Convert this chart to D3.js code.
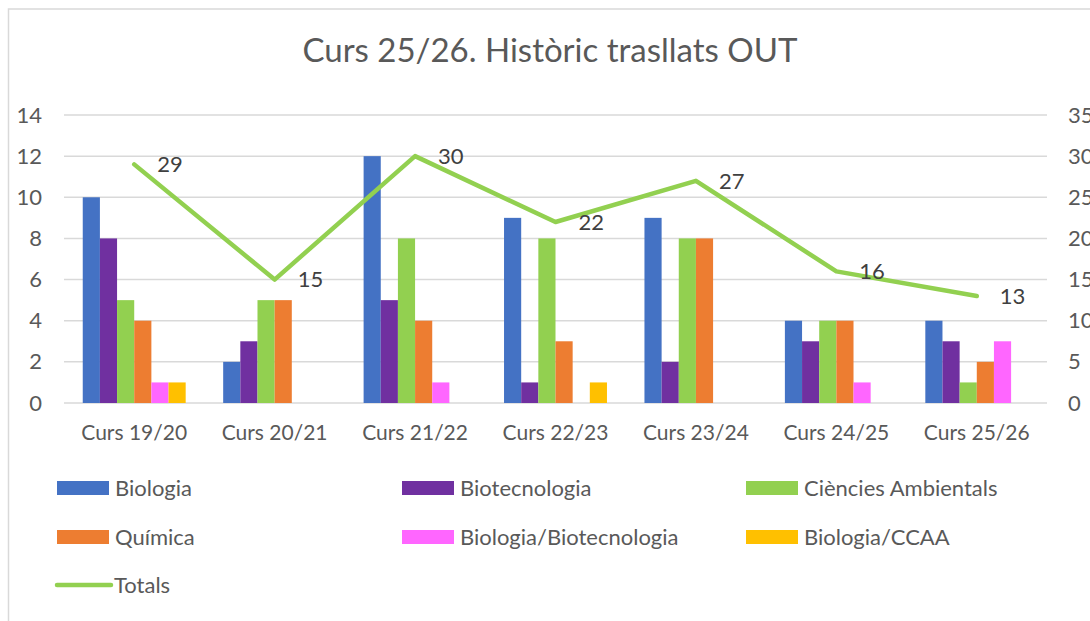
<!DOCTYPE html>
<html>
<head>
<meta charset="utf-8">
<script src="https://cdn.jsdelivr.net/npm/d3@7"></script>
<style>
  html, body { margin: 0; padding: 0; background: #fff; }
  svg { display: block; font-family: Lato, 'Open Sans', sans-serif; }
</style>
</head>
<body>
<svg width="1090" height="621"></svg>
<script>
// Data
const cursos = ['Curs 19/20', 'Curs 20/21', 'Curs 21/22', 'Curs 22/23', 'Curs 23/24', 'Curs 24/25', 'Curs 25/26'];
const biologia = [10, 2, 12, 9, 9, 4, 4];
const biotecnologia = [8, 3, 5, 1, 2, 3, 3];
const ambientals = [5, 5, 8, 8, 8, 4, 1];
const quimica = [4, 5, 4, 3, 8, 4, 2];
const bioBiotec = [1, 0, 1, 0, 0, 1, 3];
const bioCCAA = [1, 0, 0, 1, 0, 0, 0];
const totals = [29, 15, 30, 22, 27, 16, 13];
const leftTicks = [0, 2, 4, 6, 8, 10, 12, 14];
const rightTicks = [0, 5, 10, 15, 20, 25, 30, 35];

const series = [
  { name: 'Biologia', values: biologia, color: '#4472C4' },
  { name: 'Biotecnologia', values: biotecnologia, color: '#7030A0' },
  { name: 'Ciències Ambientals', values: ambientals, color: '#92D050' },
  { name: 'Química', values: quimica, color: '#ED7D31' },
  { name: 'Biologia/Biotecnologia', values: bioBiotec, color: '#FF66FF' },
  { name: 'Biologia/CCAA', values: bioCCAA, color: '#FFC000' }
];
const lineColor = '#92D050';
const textColor = '#595959';
const gridColor = '#D9D9D9';

const svg = d3.select('svg');
const plot = { left: 64, right: 1047, top: 115, bottom: 403 };

// chart area border
svg.append('rect')
  .attr('x', 8.5).attr('y', 9)
  .attr('width', 1200).attr('height', 700)
  .attr('fill', 'none')
  .attr('stroke', gridColor)
  .attr('stroke-width', 1.5);

const x0 = d3.scaleBand()
  .domain(cursos)
  .range([plot.left, plot.right])
  .paddingInner(0.267)
  .paddingOuter(0.1335);
const x1 = d3.scaleBand()
  .domain(series.map(s => s.name))
  .range([0, x0.bandwidth()]);
const y = d3.scaleLinear().domain([0, 14]).range([plot.bottom, plot.top]);
const y2 = d3.scaleLinear().domain([0, 35]).range([plot.bottom, plot.top]);

// Title
svg.append('text')
  .attr('x', 550)
  .attr('y', 62)
  .attr('text-anchor', 'middle')
  .attr('fill', textColor)
  .style('font-size', '33px')
  .text('Curs 25/26. Històric trasllats OUT');

// Gridlines
svg.append('g')
  .selectAll('line')
  .data(leftTicks)
  .enter()
  .append('line')
  .attr('x1', plot.left)
  .attr('x2', plot.right)
  .attr('y1', d => y(d))
  .attr('y2', d => y(d))
  .attr('stroke', gridColor)
  .attr('stroke-width', 1.5);

// Left axis
const yAxis = svg.append('g')
  .attr('transform', `translate(${plot.left - 20},0)`)
  .call(d3.axisLeft(y).tickValues(leftTicks).tickSize(0).tickPadding(2));
yAxis.select('.domain').remove();
yAxis.selectAll('text')
  .attr('fill', textColor)
  .style('font-size', '22px')
  .style('font-family', 'Lato, sans-serif');

// Right axis (cut by the window edge, as in the original)
const y2Axis = svg.append('g')
  .attr('transform', `translate(${plot.right + 21},0)`)
  .call(d3.axisRight(y2).tickValues(rightTicks).tickSize(0).tickPadding(0));
y2Axis.select('.domain').remove();
y2Axis.selectAll('text')
  .attr('fill', textColor)
  .style('font-size', '22px')
  .style('font-family', 'Lato, sans-serif');

// X axis
const xAxis = svg.append('g')
  .attr('transform', `translate(0,${plot.bottom})`)
  .call(d3.axisBottom(x0).tickSize(0).tickPadding(22));
xAxis.select('.domain').remove();
xAxis.selectAll('text')
  .attr('fill', textColor)
  .style('font-size', '21px')
  .style('font-family', 'Lato, sans-serif');

// Bars
svg.append('g')
  .selectAll('g')
  .data(cursos)
  .enter()
  .append('g')
  .attr('transform', d => `translate(${x0(d)},0)`)
  .selectAll('rect')
  .data((d, i) => series.map(s => ({ key: s.name, value: s.values[i], color: s.color })))
  .enter()
  .append('rect')
  .attr('x', d => x1(d.key))
  .attr('y', d => y(d.value))
  .attr('width', x1.bandwidth())
  .attr('height', d => plot.bottom - y(d.value))
  .attr('fill', d => d.color);

// Totals line
const cx = d => x0(d) + x0.bandwidth() / 2;
const line = d3.line()
  .x((d, i) => cx(cursos[i]))
  .y(d => y2(d));
svg.append('path')
  .datum(totals)
  .attr('d', line)
  .attr('fill', 'none')
  .attr('stroke', lineColor)
  .attr('stroke-width', 4.5)
  .attr('stroke-linecap', 'round')
  .attr('stroke-linejoin', 'round');

svg.append('g')
  .selectAll('text')
  .data(totals)
  .enter()
  .append('text')
  .attr('x', (d, i) => cx(cursos[i]) + 23)
  .attr('y', d => y2(d))
  .attr('dy', '0.36em')
  .attr('fill', '#404040')
  .style('font-size', '22px')
  .text(d => d);

// Legend
const legendItems = series.map(s => ({ name: s.name, color: s.color, type: 'bar' }))
  .concat([{ name: 'Totals', color: lineColor, type: 'line' }]);
const colX = [57, 402, 746];
const rowY = [488, 537, 585];

const legend = svg.append('g')
  .selectAll('g')
  .data(legendItems)
  .enter()
  .append('g')
  .attr('transform', (d, i) => `translate(${colX[i % 3]},${rowY[Math.floor(i / 3)]})`);

legend.filter(d => d.type === 'bar')
  .append('rect')
  .attr('x', 0)
  .attr('y', -7)
  .attr('width', 52)
  .attr('height', 14)
  .attr('fill', d => d.color);

legend.filter(d => d.type === 'line')
  .append('line')
  .attr('x1', 0)
  .attr('x2', 54)
  .attr('y1', 0)
  .attr('y2', 0)
  .attr('stroke', d => d.color)
  .attr('stroke-width', 4.5)
  .attr('stroke-linecap', 'round');

legend.append('text')
  .attr('x', d => (d.type === 'line' ? 57 : 58))
  .attr('y', 0)
  .attr('dy', '0.36em')
  .attr('fill', textColor)
  .style('font-size', '22px')
  .text(d => d.name);
</script>
</body>
</html>
